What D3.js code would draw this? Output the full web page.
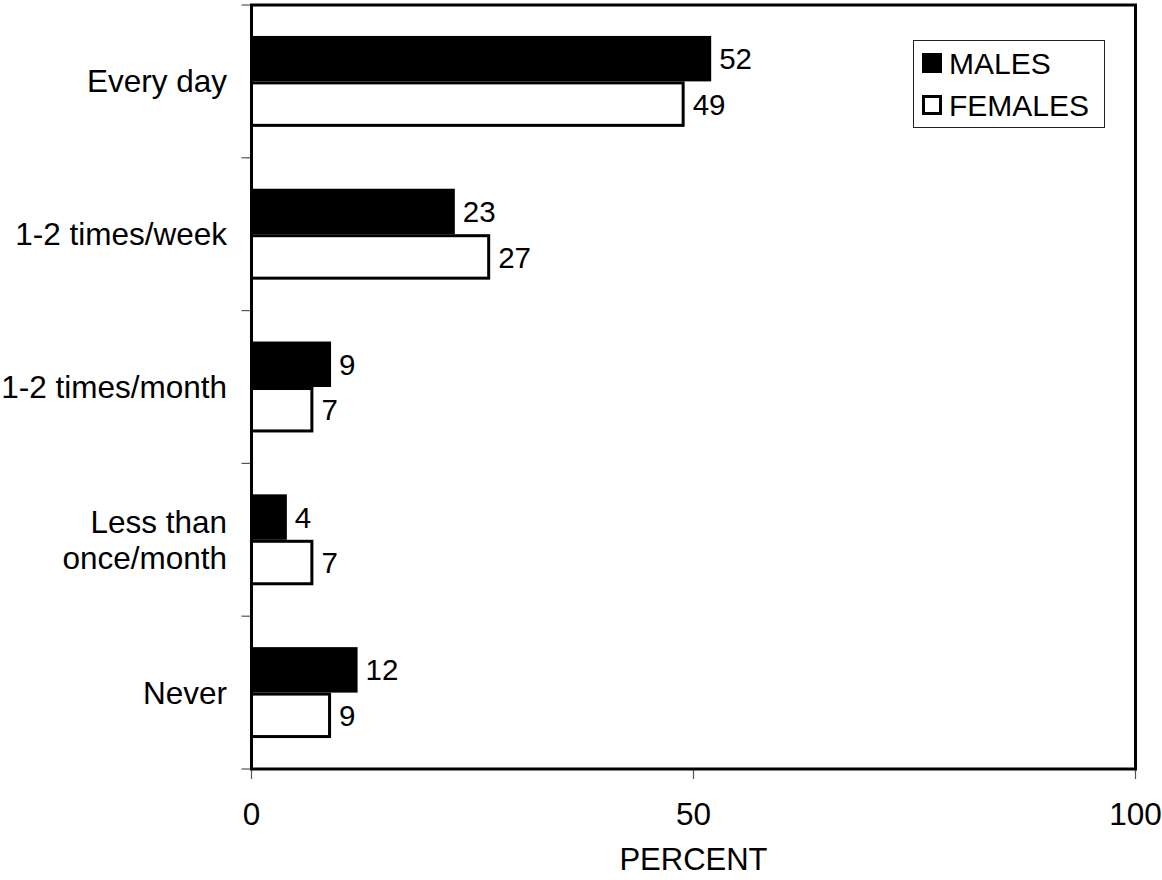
<!DOCTYPE html>
<html>
<head>
<meta charset="utf-8">
<script src="https://cdn.jsdelivr.net/npm/d3@7"></script>
<style>
  body { margin: 0; background: #fff; }
  text { font-family: "Liberation Sans", Arial, sans-serif; fill: #000; }
</style>
</head>
<body>
<div id="chart"></div>
<script>
// Data
const categories = ["Every day", "1-2 times/week", "1-2 times/month", "Less than\nonce/month", "Never"];
const seriesNames = ["MALES", "FEMALES"];
const males = [52, 23, 9, 4, 12];
const females = [49, 27, 7, 7, 9];
const xTicks = [0, 50, 100];

const W = 1162, H = 880;
const plot = { left: 251.5, right: 1135.5, top: 5, bottom: 769 };

const svg = d3.select("#chart")
    .append("svg")
    .attr("width", W)
    .attr("height", H);

const x = d3.scaleLinear()
    .domain([0, 100])
    .range([plot.left, plot.right]);

const y = d3.scaleBand()
    .domain(categories)
    .range([plot.top, plot.bottom])
    .paddingInner(0.405)
    .paddingOuter(0.2025);

const ySub = d3.scaleBand()
    .domain(seriesNames)
    .range([0, y.bandwidth()]);

const rows = categories.map((c, i) => ({ cat: c, MALES: males[i], FEMALES: females[i] }));

// category tick marks at band boundaries
const step = y.step();
const boundaries = d3.range(categories.length + 1).map(i => plot.top + i * step);
svg.append("g")
    .selectAll("line")
    .data(boundaries)
    .enter().append("line")
    .attr("x1", plot.left - 10)
    .attr("x2", plot.left)
    .attr("y1", d => d)
    .attr("y2", d => d)
    .attr("stroke", "#555")
    .attr("stroke-width", 1.2);

// x ticks
svg.append("g")
    .selectAll("line")
    .data(xTicks)
    .enter().append("line")
    .attr("x1", d => x(d))
    .attr("x2", d => x(d))
    .attr("y1", plot.bottom)
    .attr("y2", plot.bottom + 10)
    .attr("stroke", "#555")
    .attr("stroke-width", 1.2);

svg.append("g")
    .selectAll("text")
    .data(xTicks)
    .enter().append("text")
    .attr("x", d => x(d))
    .attr("y", 825)
    .attr("text-anchor", "middle")
    .style("font-size", "31.5px")
    .text(d => d);

svg.append("text")
    .attr("x", x(50))
    .attr("y", 870)
    .attr("text-anchor", "middle")
    .style("font-size", "31px")
    .text("PERCENT");

// category labels
const catLabels = svg.append("g")
    .selectAll("text")
    .data(categories)
    .enter().append("text")
    .attr("x", 227)
    .attr("y", d => y(d) + y.bandwidth() / 2)
    .attr("text-anchor", "end")
    .style("font-size", "31.5px");

catLabels.each(function(d) {
    const lines = d.split("\n");
    const t = d3.select(this);
    lines.forEach((ln, i) => {
        t.append("tspan")
            .attr("x", 227)
            .attr("dy", i === 0 ? `${0.35 - (lines.length - 1) * 0.57}em` : "1.14em")
            .text(ln);
    });
});

// bars
const groups = svg.append("g")
    .selectAll("g")
    .data(rows)
    .enter().append("g")
    .attr("transform", d => `translate(0,${y(d.cat)})`);

groups.append("rect")
    .attr("x", x(0))
    .attr("y", ySub("MALES"))
    .attr("width", d => x(d.MALES) - x(0))
    .attr("height", ySub.bandwidth())
    .attr("fill", "#000");

groups.append("rect")
    .attr("x", x(0))
    .attr("y", ySub("FEMALES") + 1.5)
    .attr("width", d => x(d.FEMALES) - x(0) - 1.5)
    .attr("height", ySub.bandwidth() - 3)
    .attr("fill", "#fff")
    .attr("stroke", "#000")
    .attr("stroke-width", 3);

// value labels
groups.append("text")
    .attr("x", d => x(d.MALES) + 8)
    .attr("y", ySub("MALES") + ySub.bandwidth() / 2)
    .attr("dy", "0.36em")
    .style("font-size", "29.5px")
    .text(d => d.MALES);

groups.append("text")
    .attr("x", d => x(d.FEMALES) + 8)
    .attr("y", ySub("FEMALES") + ySub.bandwidth() / 2)
    .attr("dy", "0.36em")
    .style("font-size", "29.5px")
    .text(d => d.FEMALES);

// frame
svg.append("rect")
    .attr("x", plot.left)
    .attr("y", plot.top)
    .attr("width", plot.right - plot.left)
    .attr("height", plot.bottom - plot.top)
    .attr("fill", "none")
    .attr("stroke", "#000")
    .attr("stroke-width", 3);

// legend
const legend = svg.append("g")
    .attr("transform", "translate(913,40)");

legend.append("rect")
    .attr("x", 0.5)
    .attr("y", 0.5)
    .attr("width", 191)
    .attr("height", 87)
    .attr("fill", "#fff")
    .attr("stroke", "#222")
    .attr("stroke-width", 1);

legend.append("rect")
    .attr("x", 9).attr("y", 13)
    .attr("width", 20).attr("height", 20)
    .attr("fill", "#000");

legend.append("rect")
    .attr("x", 10.5).attr("y", 56.5)
    .attr("width", 17).attr("height", 17)
    .attr("fill", "#fff")
    .attr("stroke", "#000")
    .attr("stroke-width", 3);

legend.selectAll("text.lg")
    .data(seriesNames)
    .enter().append("text")
    .attr("class", "lg")
    .attr("x", 36)
    .attr("y", (d, i) => 33.5 + i * 42)
    .style("font-size", "30px")
    .text(d => d);
</script>
</body>
</html>
